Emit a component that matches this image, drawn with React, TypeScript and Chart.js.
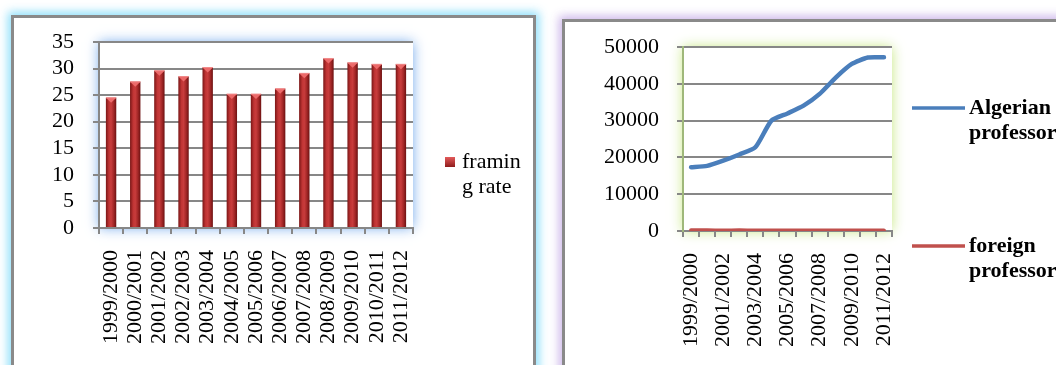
import React, { useEffect, useRef } from "react";
import { Chart, registerables } from "chart.js";

Chart.register(...registerables);

// Academic years shared by both charts
const years = [
  "1999/2000", "2000/2001", "2001/2002", "2002/2003", "2003/2004", "2004/2005", "2005/2006",
  "2006/2007", "2007/2008", "2008/2009", "2009/2010", "2010/2011", "2011/2012",
];

// Framing rate (bar chart)
const framingRate = [24.5, 27.5, 29.6, 28.5, 30.2, 25.2, 25.2, 26.2, 29.1, 31.9, 31.1, 30.8, 30.8];
const rateTicks = { min: 0, max: 35, step: 5 };

// Professors (line chart)
const algerianProfessors = [17350, 17700, 19100, 20800, 22750, 30000, 31950, 34050, 37250, 41700, 45400, 47150, 47200];
const foreignProfessors = [180, 170, 160, 170, 160, 150, 150, 160, 150, 140, 150, 140, 150];
const staffTicks = { min: 0, max: 50000, step: 10000 };

const SERIF = '"Liberation Serif", "Times New Roman", serif';
const GRID = "#878787";
const BLUE = "#4a7ebb";
const RED = "#c0504d";

const glowPlugin = (color: string) => ({
  id: "plotGlow",
  beforeDraw(chart: any) {
    const { ctx, chartArea: a } = chart;
    ctx.save();
    ctx.shadowColor = color;
    ctx.shadowBlur = 12;
    ctx.fillStyle = "#fff";
    ctx.fillRect(a.left, a.top, a.right - a.left, a.bottom - a.top);
    ctx.restore();
  },
});

const barGradient = (c: any) => {
  const chart = c.chart;
  const xs = chart.scales.x;
  if (!xs || c.dataIndex === undefined) return "#b03030";
  const cx = xs.getPixelForValue(c.dataIndex);
  const half = ((xs.right - xs.left) / years.length) * 0.43 / 2;
  if (!Number.isFinite(cx) || !Number.isFinite(half) || half <= 0) return "#b03030";
  const g = chart.ctx.createLinearGradient(cx - half, 0, cx + half, 0);
  g.addColorStop(0, "#7a1616");
  g.addColorStop(0.3, "#c03434");
  g.addColorStop(0.5, "#c83c3c");
  g.addColorStop(0.75, "#a32727");
  g.addColorStop(1, "#6c1111");
  return g;
};

// Pyramid-like caps on top of the bars, plus the side legend
const barDecor = {
  id: "barDecor",
  afterDatasetsDraw(chart: any) {
    const { ctx } = chart;
    const meta = chart.getDatasetMeta(0);
    ctx.save();
    meta.data.forEach((el: any) => {
      const { x, y, width } = el.getProps(["x", "y", "width"], true);
      const h = 5;
      ctx.beginPath();
      ctx.moveTo(x - width / 2, y);
      ctx.lineTo(x + width / 2, y);
      ctx.lineTo(x, y + h);
      ctx.closePath();
      ctx.fillStyle = "#ec6a6a";
      ctx.fill();
      ctx.beginPath();
      ctx.moveTo(x - width / 2, y);
      ctx.lineTo(x + width / 2, y);
      ctx.strokeStyle = "#f08a8a";
      ctx.lineWidth = 1;
      ctx.stroke();
    });
    ctx.restore();
  },
  afterDraw(chart: any) {
    const { ctx, chartArea: a } = chart;
    const mx = a.right + 32;
    const my = 157;
    ctx.save();
    const g = ctx.createLinearGradient(0, my, 0, my + 10);
    g.addColorStop(0, "#e35a5a");
    g.addColorStop(1, "#8e1c1c");
    ctx.fillStyle = g;
    ctx.fillRect(mx, my, 10, 10);
    ctx.fillStyle = "#000";
    ctx.font = `22px ${SERIF}`;
    ctx.textBaseline = "middle";
    ctx.textAlign = "left";
    ["framin", "g rate"].forEach((t, i) => ctx.fillText(t, mx + 17, my + 5 + i * 25));
    ctx.restore();
  },
};

const lineLegend = {
  id: "lineLegend",
  afterDraw(chart: any) {
    const { ctx, chartArea: a } = chart;
    const items = [
      { color: BLUE, lines: ["Algerian", "professors"], y: 108 },
      { color: RED, lines: ["foreign", "professors"], y: 246 },
    ];
    ctx.save();
    ctx.font = `bold 22px ${SERIF}`;
    ctx.textBaseline = "middle";
    ctx.textAlign = "left";
    items.forEach((it) => {
      ctx.strokeStyle = it.color;
      ctx.lineWidth = 3.5;
      ctx.beginPath();
      ctx.moveTo(a.right + 20, it.y);
      ctx.lineTo(a.right + 73, it.y);
      ctx.stroke();
      ctx.fillStyle = "#000";
      it.lines.forEach((t, i) => ctx.fillText(t, a.right + 77, it.y + i * 25));
    });
    ctx.restore();
  },
};

const tickFont = { family: SERIF, size: 22 };

function BarPanel() {
  const ref = useRef<HTMLCanvasElement>(null);
  useEffect(() => {
    const chart = new Chart(ref.current!, {
      type: "bar",
      data: {
        labels: years,
        datasets: [
          {
            label: "framing rate",
            data: framingRate,
            backgroundColor: barGradient,
            barPercentage: 0.43,
            categoryPercentage: 1,
          },
        ],
      },
      options: {
        responsive: false,
        animation: false,
        layout: { padding: { top: 42, right: 127, left: 0, bottom: 0 } },
        plugins: { legend: { display: false }, tooltip: { enabled: false } },
        scales: {
          x: {
            grid: { drawOnChartArea: false, tickLength: 6, color: GRID, lineWidth: 2, offset: true },
            border: { color: GRID, width: 2 },
            ticks: { maxRotation: 90, minRotation: 90, autoSkip: false, padding: 16, color: "#000", font: tickFont },
            afterFit: (s: any) => { s.height = 137; },
          },
          y: {
            min: rateTicks.min,
            max: rateTicks.max,
            ticks: { stepSize: rateTicks.step, autoSkip: false, padding: 19, color: "#000", font: tickFont },
            grid: { color: GRID, lineWidth: 2, tickLength: 6 },
            border: { color: GRID, width: 2 },
            afterFit: (s: any) => { s.width = 99; },
          },
        },
      },
      plugins: [glowPlugin("rgba(110,165,235,0.95)"), barDecor],
    });
    return () => chart.destroy();
  }, []);
  return <canvas ref={ref} width={540} height={365} style={{ position: "absolute", left: 0, top: 0, width: 540, height: 365 }} />;
}

function LinePanel() {
  const ref = useRef<HTMLCanvasElement>(null);
  useEffect(() => {
    const chart = new Chart(ref.current!, {
      type: "line",
      data: {
        labels: years,
        datasets: [
          {
            label: "Algerian professors",
            data: algerianProfessors,
            borderColor: BLUE,
            borderWidth: 4.5,
            pointRadius: 0,
            tension: 0.2,
            borderCapStyle: "round",
            borderJoinStyle: "round",
          },
          {
            label: "foreign professors",
            data: foreignProfessors,
            borderColor: RED,
            borderWidth: 4,
            pointRadius: 0,
            tension: 0.2,
            borderCapStyle: "round",
          },
        ],
      },
      options: {
        responsive: false,
        animation: false,
        layout: { padding: { top: 47, right: 164, left: 0, bottom: 0 } },
        plugins: { legend: { display: false }, tooltip: { enabled: false } },
        scales: {
          x: {
            offset: true,
            grid: { drawOnChartArea: false, tickLength: 6, color: GRID, lineWidth: 2, offset: true },
            border: { color: GRID, width: 2 },
            ticks: {
              maxRotation: 90,
              minRotation: 90,
              autoSkip: false,
              padding: 16,
              color: "#000",
              font: tickFont,
              callback: (_v: any, i: number) => (i % 2 === 0 ? years[i] : ""),
            },
            afterFit: (s: any) => { s.height = 134; },
          },
          y: {
            min: staffTicks.min,
            max: staffTicks.max,
            ticks: { stepSize: staffTicks.step, autoSkip: false, padding: 18, color: "#000", font: tickFont, callback: (v: any) => String(v) },
            grid: { color: GRID, lineWidth: 2, tickLength: 6 },
            border: { color: "#9fb87a", width: 2 },
            afterFit: (s: any) => { s.width = 143; },
          },
        },
      },
      plugins: [glowPlugin("rgba(195,230,120,0.95)"), lineLegend],
    });
    return () => chart.destroy();
  }, []);
  return <canvas ref={ref} width={516} height={365} style={{ position: "absolute", left: 540, top: 0, width: 516, height: 365 }} />;
}

export default function App() {
  return (
    <div style={{ position: "absolute", left: 0, top: 0, width: 1056, height: 365, overflow: "hidden", background: "#fff" }}>
      <div
        style={{
          position: "absolute", left: 11, top: 15, width: 525, height: 420, boxSizing: "border-box",
          border: "3px solid #8a8a8a", boxShadow: "0 0 9px 3px rgba(130,220,250,0.9)",
        }}
      />
      <div
        style={{
          position: "absolute", left: 562, top: 19, width: 520, height: 420, boxSizing: "border-box",
          border: "3px solid #8a8a8a", boxShadow: "0 0 9px 3px rgba(200,175,232,0.9)",
        }}
      />
      <BarPanel />
      <LinePanel />
    </div>
  );
}
